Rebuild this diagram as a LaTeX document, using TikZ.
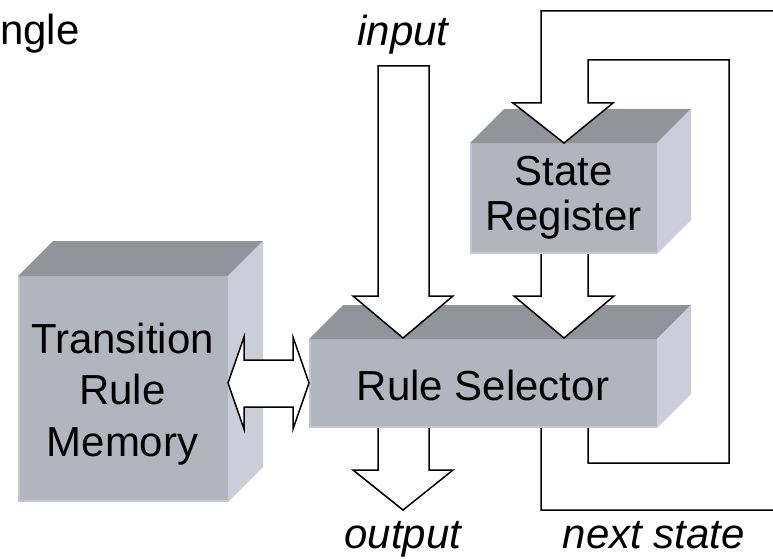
\documentclass[tikz,border=0pt]{standalone}
\usepackage{fontspec}
\setmainfont{Liberation Sans}
\definecolor{facefront}{HTML}{B3B5BE}
\definecolor{facetop}{HTML}{92949C}
\definecolor{faceside}{HTML}{CBCDD8}
\definecolor{faceedge}{HTML}{C4C6D0}
\tikzset{
  front/.style={fill=facefront, draw=none, inner sep=0pt, outer sep=0pt},
  blockarrow/.style={draw=black, line width=1.5pt, line join=miter, fill=white},
  arrowfill/.style={fill=white, draw=none},
  arrowline/.style={draw=black, line width=1.5pt, line join=miter},
  label/.style={inner sep=0pt, anchor=base, font=\fontsize{42}{50}\selectfont},
  italiclabel/.style={label, font=\fontsize{42}{50}\selectfont\itshape},
}
% a box in perspective: front face node, then its top and right faces
\newcommand{\blockcube}[6]{%
  \node[front, minimum width=#4-#2, minimum height=#5-#3, anchor=north west] (#1) at (#2,#3) {};
  \fill[facetop] (#1.north west) -- ++(#6,-#6) -- ($(#1.north east)+(#6,-#6)$) -- (#1.north east) -- cycle;
  \fill[faceside] (#1.north east) -- ++(#6,-#6) -- ($(#1.south east)+(#6,-#6)$) -- (#1.south east) -- cycle;
  \draw[faceedge, line width=2pt] ([yshift=-1pt]#1.north west) ++(1pt,0) -- ([shift={(1pt,1pt)}]#1.south west) -- ([yshift=1pt]#1.south east);
}
\usetikzlibrary{calc}
\begin{document}
\begin{tikzpicture}[x=1pt, y=-1pt]
\useasboundingbox (0,0) rectangle (773,559);
\clip (0,0) rectangle (773,559);

% boxes
\blockcube{trm}{18}{276}{228}{502}{35}
\blockcube{rs}{309}{339}{657}{428}{34}
\blockcube{sr}{470}{143}{657}{254}{34}

% box texts
\node[label] (trmA) at (122.5,353) {Transition};
\node[label] (trmB) at (122.5,404) {Rule};
\node[label] (trmC) at (122.5,456) {Memory};
\node[label] (rsT) at (483,400) {Rule Selector};
\node[label] (srA) at (563.5,185) {State};
\node[label] (srB) at (563.5,230) {Register};

% memory <-> selector
\draw[blockarrow] (trm.east |- 0,383) -- (244,337) -- (244,360) -- (293,360) -- (293,337)
  -- (rs.west |- 0,383) -- (293,429) -- (293,407) -- (244,407) -- (244,429) -- cycle;

% input arrow
\draw[blockarrow] (378,66) -- (429,66) -- (429,296) -- (453,296) -- (403,338) -- (353,296) -- (378,296) -- cycle;

% state register -> rule selector
\fill[arrowfill] (541,254) -- (541,296) -- (514,296) -- (564,338) -- (614,296) -- (588,296) -- (588,254) -- cycle;
\draw[arrowline] (541,254) -- (541,296) -- (514,296) -- (564,338) -- (614,296) -- (588,296) -- (588,254);

% output arrow
\fill[arrowfill] (378,428) -- (378,470) -- (353,470) -- (403,510) -- (453,470) -- (429,470) -- (429,428) -- cycle;
\draw[arrowline] (378,428) -- (378,470) -- (353,470) -- (403,510) -- (453,470) -- (429,470) -- (429,428);

% next state fed back into the state register
\fill[arrowfill] (541,428) -- (541,510) -- (800,510) -- (800,11) -- (541,11) -- (541,103) -- (513,103)
  -- (564,143) -- (613,103) -- (588,103) -- (588,60) -- (729,60) -- (729,463) -- (588,463) -- (588,428) -- cycle;
\draw[arrowline] (541,428) -- (541,510) -- (800,510) -- (800,11) -- (541,11) -- (541,103) -- (513,103)
  -- (564,143) -- (613,103) -- (588,103) -- (588,60) -- (729,60) -- (729,463) -- (588,463) -- (588,428);

% labels
\node[label] (title) at (0,45) [anchor=base west] {ngle};
\node[italiclabel] (inlab) at (403,46) {input};
\node[italiclabel] (outlab) at (403,548) {output};
\node[italiclabel] (nslab) at (654,548) {next state};
\end{tikzpicture}
\end{document}
